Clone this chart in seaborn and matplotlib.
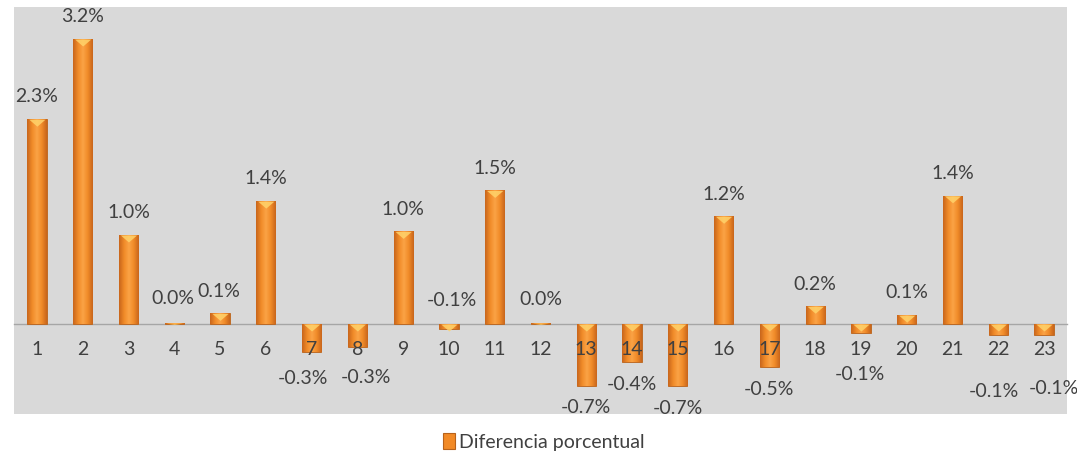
import matplotlib
matplotlib.use("Agg")
import matplotlib.pyplot as plt
import seaborn as sns
import pandas as pd
import numpy as np
from matplotlib.patches import Patch
from matplotlib.colors import LinearSegmentedColormap

categories = [str(i) for i in range(1, 24)]
values = [2.3, 3.2, 1.0, 0.01, 0.12, 1.38, -0.31, -0.26, 1.04, -0.06, 1.5, 0.01,
          -0.69, -0.43, -0.7, 1.21, -0.48, 0.2, -0.1, 0.1, 1.44, -0.12, -0.12]
labels = ["2.3%", "3.2%", "1.0%", "0.0%", "0.1%", "1.4%", "-0.3%", "-0.3%", "1.0%", "-0.1%",
          "1.5%", "0.0%", "-0.7%", "-0.4%", "-0.7%", "1.2%", "-0.5%", "0.2%", "-0.1%", "0.1%",
          "1.4%", "-0.1%", "-0.1%"]
series_name = "Diferencia porcentual"

# label offsets (points) away from the bar end, as Excel placed them
label_offsets = [16, 16, 16, 18, 16, 16, 19, 22, 16, -21, 16, 17,
                 16, 16, 16, 16, 16, 16, 30, 16, 16, 41, 39]
label_dx = [0, 0, 0, -1, -1, 0, -6, 6, 0, 2, 0, 0,
            0, 0, 0, 0, 0, 0, -1, 0, 0, -3, 7]

sns.set_theme(style="white")
plt.rcParams['font.family'] = ['Lato', 'DejaVu Sans']
text_color = "#404040"
bar_color = "#F28A26"
edge_color = "#B8621A"
fs = 14

df = pd.DataFrame({"cat": categories, "val": values})

fig = plt.figure(figsize=(10.77, 4.54), dpi=100)
ax = fig.add_axes([0.013, 0.088, 0.9777, 0.8966])
ax.set_facecolor("#D9D9D9")

sns.barplot(data=df, x="cat", y="val", color=bar_color, width=0.42, ax=ax,
            saturation=1, edgecolor=edge_color, linewidth=0.6, zorder=2)

ax.set_ylim(-1.01, 3.56)
ax.set_xlim(-0.5, len(categories) - 0.5)

# horizontal gradient (bevel look) clipped to each bar
cmap = LinearSegmentedColormap.from_list(
    "bev", ["#C8661C", "#F08A28", "#FBA446", "#F08A28", "#C8661C"])
grad = np.linspace(0, 1, 64).reshape(1, -1)
for p in list(ax.containers[0]):
    x0, y0 = p.get_x(), p.get_y()
    w, h = p.get_width(), p.get_height()
    im = ax.imshow(grad, cmap=cmap, aspect="auto", zorder=2.2,
                   extent=(x0, x0 + w, min(y0, y0 + h), max(y0, y0 + h)),
                   interpolation="bilinear")
    im.set_clip_path(p)
    # light top band (bevel highlight)
    band = min(abs(h), 0.06)
    if h >= 0:
        ax.fill_between([x0 + w * 0.08, x0 + w / 2, x0 + w * 0.92],
                        [y0 + h, y0 + h - band * 1.3, y0 + h], y0 + h,
                        color="#FFD36B", alpha=0.85, zorder=2.3, linewidth=0)
    else:
        ax.fill_between([x0 + w * 0.08, x0 + w / 2, x0 + w * 0.92],
                        [y0, y0 - band * 1.3, y0], y0,
                        color="#FFD36B", alpha=0.85, zorder=2.3, linewidth=0)
ax.set_xlim(-0.5, len(categories) - 0.5)
ax.set_ylim(-1.01, 3.56)

for i, (v, lab) in enumerate(zip(values, labels)):
    off = label_offsets[i] if v >= 0 else -label_offsets[i]
    ax.annotate(lab, xy=(i, v), xytext=(label_dx[i], off), textcoords="offset points",
                ha="center", va="center", fontsize=fs, color=text_color, zorder=6)

for s in ["top", "right", "left"]:
    ax.spines[s].set_visible(False)
ax.spines["bottom"].set_position(("data", 0))
ax.spines["bottom"].set_color("#A6A6A6")
ax.spines["bottom"].set_linewidth(1.0)
ax.spines["bottom"].set_zorder(1)
ax.set_yticks([])
ax.set_xlabel("")
ax.set_ylabel("")
ax.xaxis.set_zorder(5)
ax.tick_params(axis="x", which="major", length=0, pad=12, labelsize=fs, labelcolor=text_color)
ax.set_xticks([i - 0.5 for i in range(len(categories) + 1)], minor=True)
ax.tick_params(axis="x", which="minor", length=5, color="#A6A6A6", width=1)

handle = Patch(facecolor=bar_color, edgecolor=edge_color, linewidth=0.8)
fig.legend([handle], [series_name], loc="center", bbox_to_anchor=(0.505, 0.026),
           frameon=False, fontsize=fs, handlelength=0.6, handleheight=0.9,
           handletextpad=0.2, labelcolor=text_color)

fig.savefig("out.png", dpi=100, facecolor="white")
